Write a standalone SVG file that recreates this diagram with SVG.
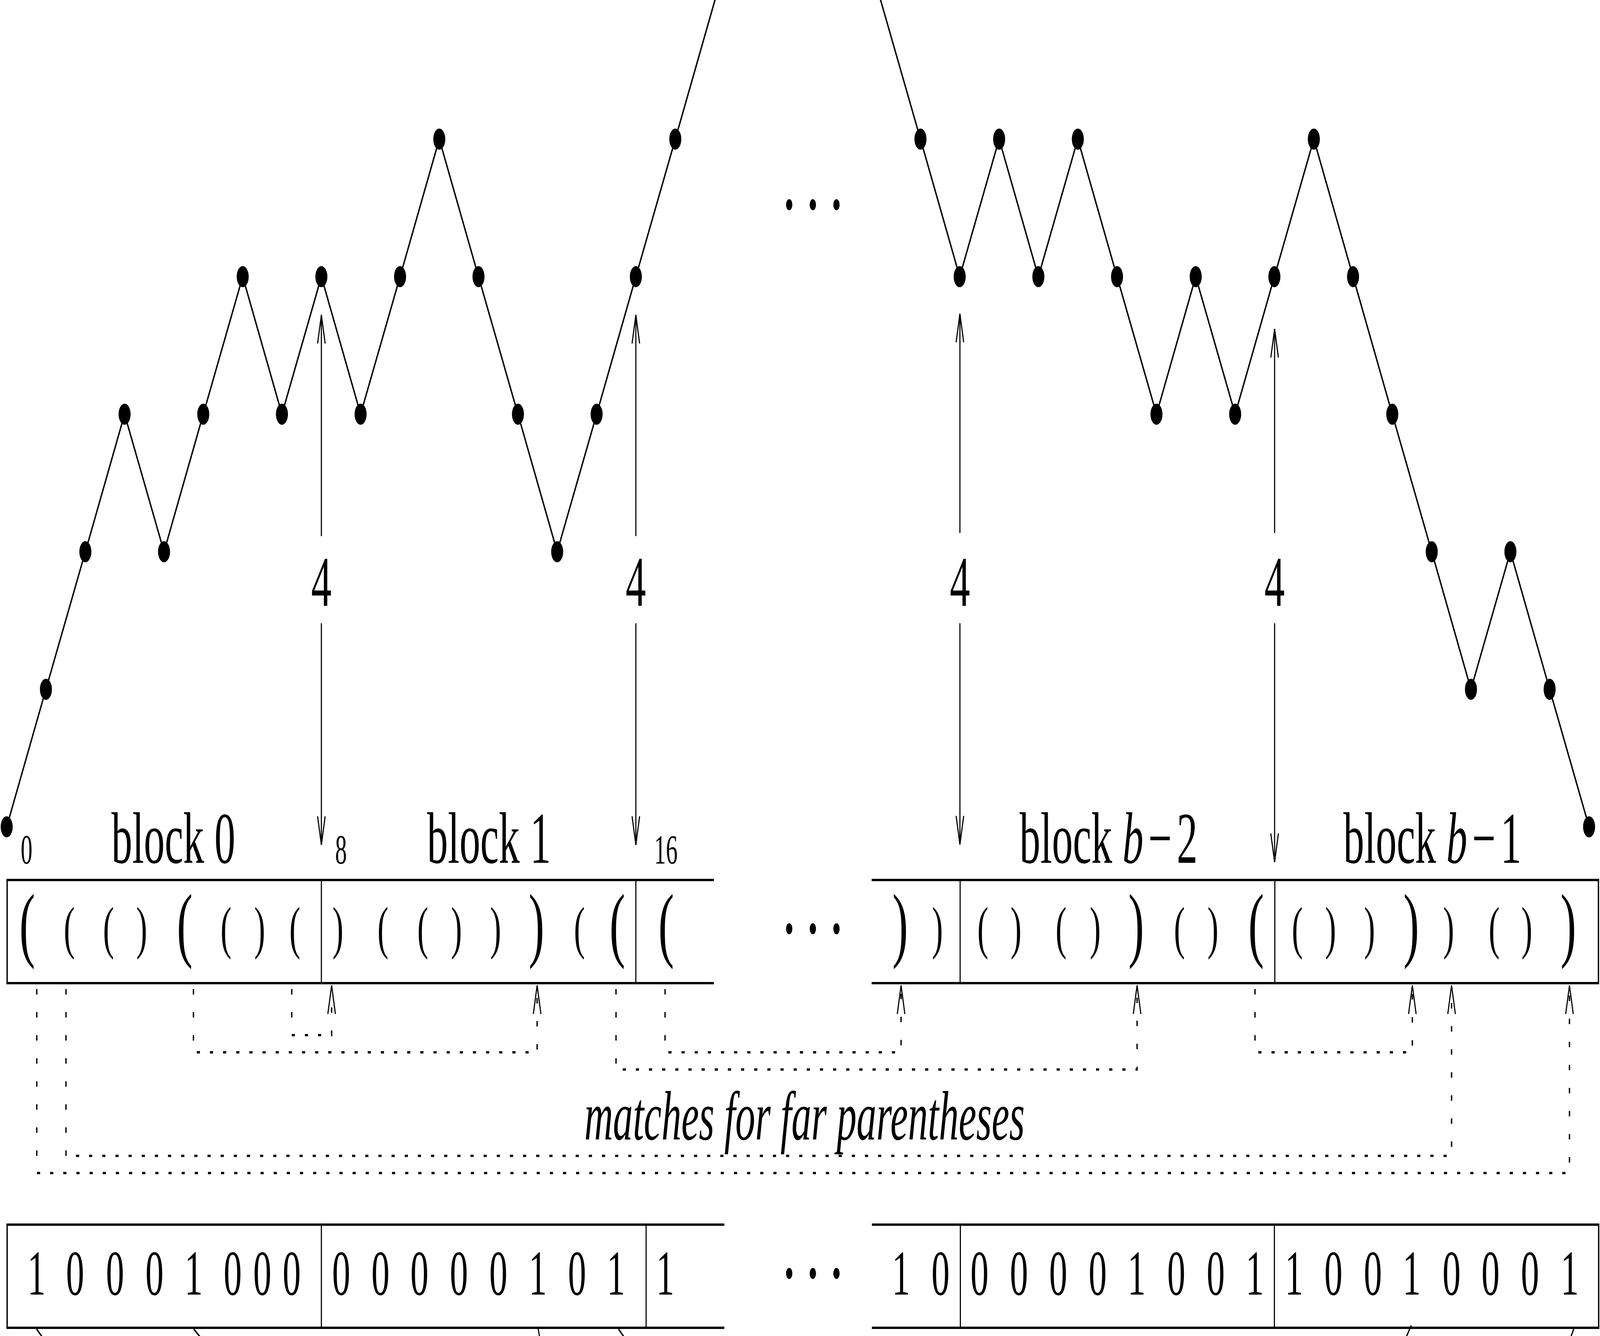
<svg xmlns="http://www.w3.org/2000/svg" width="7179" height="3419" viewBox="0 0 7179 3419" preserveAspectRatio="none" style="width:100vw;height:100vh;display:block">
<style>
  .ln { fill: none; stroke: #000; stroke-width: 6; }
  .thin { fill: none; stroke: #000; stroke-width: 5; }
  .dot { fill: #000; }
  .arr { fill: none; stroke: #000; stroke-width: 5; marker-end: url(#ah); }
  .darr { fill: none; stroke: #000; stroke-width: 6; stroke-dasharray: 14 45; marker-end: url(#ah); }
  text { font-family: "Liberation Serif", "DejaVu Serif", serif; fill: #000; text-anchor: middle; }
  .lbl { font-size: 187px; }
  .idx { font-size: 105px; }
  .four { font-size: 182px; }
  .ps { font-size: 148px; }
  .pb { font-size: 212px; }
  .bits { font-size: 163px; }
  .it { font-style: italic; font-size: 178px; }
  .ell { font-size: 240px; }
</style>
<defs>
  <marker id="ah" markerUnits="userSpaceOnUse" viewBox="-85 -25 90 50" markerWidth="90" markerHeight="50" refX="0" refY="0" orient="auto" overflow="visible">
    <path d="M-73,-17 L0,0 L-73,17" fill="none" stroke="#000" stroke-width="5" stroke-dasharray="none"/>
  </marker>
</defs>

<g id="path-left">
  <polyline class="ln" points="30,2116 206,1764 383,1412 559,1060 736,1412 912,1060 1089,708 1265,1060 1442,708 1618,1060 1795,708 1971,356 2147,708 2324,1060 2500,1412 2677,1060 2853,708 3030,356 3211,-6"/>
  <g class="dot">
    <circle cx="30" cy="2116" r="27"/><circle cx="206" cy="1764" r="27"/><circle cx="383" cy="1412" r="27"/>
    <circle cx="559" cy="1060" r="27"/><circle cx="736" cy="1412" r="27"/><circle cx="912" cy="1060" r="27"/>
    <circle cx="1089" cy="708" r="27"/><circle cx="1265" cy="1060" r="27"/><circle cx="1442" cy="708" r="27"/>
    <circle cx="1618" cy="1060" r="27"/><circle cx="1795" cy="708" r="27"/><circle cx="1971" cy="356" r="27"/>
    <circle cx="2147" cy="708" r="27"/><circle cx="2324" cy="1060" r="27"/><circle cx="2500" cy="1412" r="27"/>
    <circle cx="2677" cy="1060" r="27"/><circle cx="2853" cy="708" r="27"/><circle cx="3030" cy="356" r="27"/>
  </g>
</g>

<g id="path-right">
  <polyline class="ln" points="3948,-6 4130,356 4306,708 4483,356 4659,708 4836,356 5012,708 5189,1060 5365,708 5542,1060 5718,708 5895,356 6071,708 6247,1060 6424,1412 6600,1764 6777,1412 6953,1764 7130,2116"/>
  <g class="dot">
    <circle cx="4130" cy="356" r="27"/><circle cx="4306" cy="708" r="27"/><circle cx="4483" cy="356" r="27"/>
    <circle cx="4659" cy="708" r="27"/><circle cx="4836" cy="356" r="27"/><circle cx="5012" cy="708" r="27"/>
    <circle cx="5189" cy="1060" r="27"/><circle cx="5365" cy="708" r="27"/><circle cx="5542" cy="1060" r="27"/>
    <circle cx="5718" cy="708" r="27"/><circle cx="5895" cy="356" r="27"/><circle cx="6071" cy="708" r="27"/>
    <circle cx="6247" cy="1060" r="27"/><circle cx="6424" cy="1412" r="27"/><circle cx="6600" cy="1764" r="27"/>
    <circle cx="6777" cy="1412" r="27"/><circle cx="6953" cy="1764" r="27"/><circle cx="7130" cy="2116" r="27"/>
  </g>
</g>

<g id="ellipses">
  <text class="ell" x="3541 3647 3753" y="535">...</text>
  <text class="ell" x="3541 3647 3753" y="2388">...</text>
  <text class="ell" x="3541 3647 3753" y="3270">...</text>
</g>

<g id="height-arrows">
  <g id="h8">
    <line class="arr" x1="1442" y1="1372" x2="1442" y2="806"/>
    <line class="arr" x1="1442" y1="1595" x2="1442" y2="2162"/>
    <text class="four" x="1442" y="1550">4</text>
  </g>
  <g id="h16">
    <line class="arr" x1="2853" y1="1372" x2="2853" y2="806"/>
    <line class="arr" x1="2853" y1="1595" x2="2853" y2="2162"/>
    <text class="four" x="2853" y="1550">4</text>
  </g>
  <g id="hb2">
    <line class="arr" x1="4307" y1="1364" x2="4307" y2="803"/>
    <line class="arr" x1="4307" y1="1595" x2="4307" y2="2161"/>
    <text class="four" x="4307" y="1550">4</text>
  </g>
  <g id="hb1">
    <line class="arr" x1="5719" y1="1364" x2="5719" y2="842"/>
    <line class="arr" x1="5719" y1="1595" x2="5719" y2="2206"/>
    <text class="four" x="5719" y="1550">4</text>
  </g>
</g>

<g id="block-labels">
  <text class="lbl" x="778" y="2208">block 0</text>
  <text class="lbl" x="2194" y="2208">block 1</text>
  <text class="lbl" x="4974" y="2208">block <tspan font-style="italic">b</tspan><tspan dx="22">−</tspan><tspan dx="22">2</tspan></text>
  <text class="lbl" x="6427" y="2208">block <tspan font-style="italic">b</tspan><tspan dx="22">−</tspan><tspan dx="22">1</tspan></text>
  <text class="idx" x="119" y="2210">0</text>
  <text class="idx" x="1530" y="2210">8</text>
  <text class="idx" x="2988" y="2210">16</text>
</g>

<g id="paren-row">
  <path class="ln" d="M3203,2252 H32 V2516 H3203"/>
  <path class="thin" d="M1442,2252 V2516 M2853,2252 V2516"/>
  <path class="ln" d="M3911,2252 H7172 V2516 H3911"/>
  <path class="thin" d="M4308,2252 V2516 M5720,2252 V2516"/>
  <g id="parens-block0">
    <text><tspan class="pb" x="122" y="2435">(</tspan><tspan class="ps" x="311" y="2424">(</tspan><tspan class="ps" x="487" y="2424">(</tspan><tspan class="ps" x="636" y="2424">)</tspan><tspan class="pb" x="829" y="2435">(</tspan><tspan class="ps" x="1014" y="2424">(</tspan><tspan class="ps" x="1165" y="2424">)</tspan><tspan class="ps" x="1323" y="2424">(</tspan></text>
  </g>
  <g id="parens-block1">
    <text><tspan class="ps" x="1516" y="2424">)</tspan><tspan class="ps" x="1718" y="2424">(</tspan><tspan class="ps" x="1897" y="2424">(</tspan><tspan class="ps" x="2048" y="2424">)</tspan><tspan class="ps" x="2224" y="2424">)</tspan><tspan class="pb" x="2407" y="2435">)</tspan><tspan class="ps" x="2600" y="2424">(</tspan><tspan class="pb" x="2770" y="2435">(</tspan></text>
  </g>
  <g id="parens-block2">
    <text class="pb" x="2989" y="2435">(</text>
  </g>
  <g id="parens-block-b3">
    <text><tspan class="pb" x="4039" y="2435">)</tspan><tspan class="ps" x="4206" y="2424">)</tspan></text>
  </g>
  <g id="parens-block-b2">
    <text><tspan class="ps" x="4410" y="2424">(</tspan><tspan class="ps" x="4559" y="2424">)</tspan><tspan class="ps" x="4761" y="2424">(</tspan><tspan class="ps" x="4914" y="2424">)</tspan><tspan class="pb" x="5098" y="2435">)</tspan><tspan class="ps" x="5292" y="2424">(</tspan><tspan class="ps" x="5442" y="2424">)</tspan><tspan class="pb" x="5636" y="2435">(</tspan></text>
  </g>
  <g id="parens-block-b1">
    <text><tspan class="ps" x="5821" y="2424">(</tspan><tspan class="ps" x="5970" y="2424">)</tspan><tspan class="ps" x="6145" y="2424">)</tspan><tspan class="pb" x="6332" y="2435">)</tspan><tspan class="ps" x="6500" y="2424">)</tspan><tspan class="ps" x="6704" y="2424">(</tspan><tspan class="ps" x="6851" y="2424">)</tspan><tspan class="pb" x="7037" y="2435">)</tspan></text>
  </g>
</g>

<g id="connectors">
  <path class="darr" d="M1309,2531 V2649 H1488 V2522"/>
  <path class="darr" d="M868,2531 V2693 H2410 V2522"/>
  <path class="darr" d="M2764,2531 V2737 H5102 V2522"/>
  <path class="darr" d="M2984,2531 V2693 H4043 V2522"/>
  <path class="darr" d="M5631,2531 V2693 H6337 V2522"/>
  <path class="darr" d="M296,2531 V2958 H6513 V2522"/>
  <path class="darr" d="M165,2531 V3002 H7042 V2522"/>
</g>

<text class="it" x="3610" y="2916">matches for far parentheses</text>

<g id="bit-row">
  <path class="ln" d="M3250,3134 H32 V3398 H3250"/>
  <path class="thin" d="M1442,3134 V3398 M2899,3134 V3398"/>
  <path class="ln" d="M3912,3134 H7173 V3398 H3912"/>
  <path class="thin" d="M4309,3134 V3398 M5718,3134 V3398"/>
  <text class="bits" x="164 337 516 693 869 1044 1177 1309" y="3313">10001000</text>
  <text class="bits" x="1531 1707 1882 2059 2236 2413 2589 2764" y="3313">00000101</text>
  <text class="bits" x="2985" y="3313">1</text>
  <text class="bits" x="4043 4220" y="3313">10</text>
  <text class="bits" x="4395 4572 4748 4925 5100 5278 5455 5630" y="3313">00001001</text>
  <text class="bits" x="5806 5983 6160 6334 6513 6688 6865 7043" y="3313">10010001</text>
</g>

<g id="below-edges">
  <line class="thin" x1="164" y1="3401" x2="194" y2="3425"/>
  <line class="thin" x1="869" y1="3401" x2="903" y2="3425"/>
  <line class="thin" x1="2413" y1="3395" x2="2422" y2="3425"/>
  <line class="thin" x1="2775" y1="3401" x2="2804" y2="3425"/>
  <line class="thin" x1="6332" y1="3392" x2="6307" y2="3425"/>
  <line class="thin" x1="7061" y1="3401" x2="7046" y2="3425"/>
</g>
</svg>
